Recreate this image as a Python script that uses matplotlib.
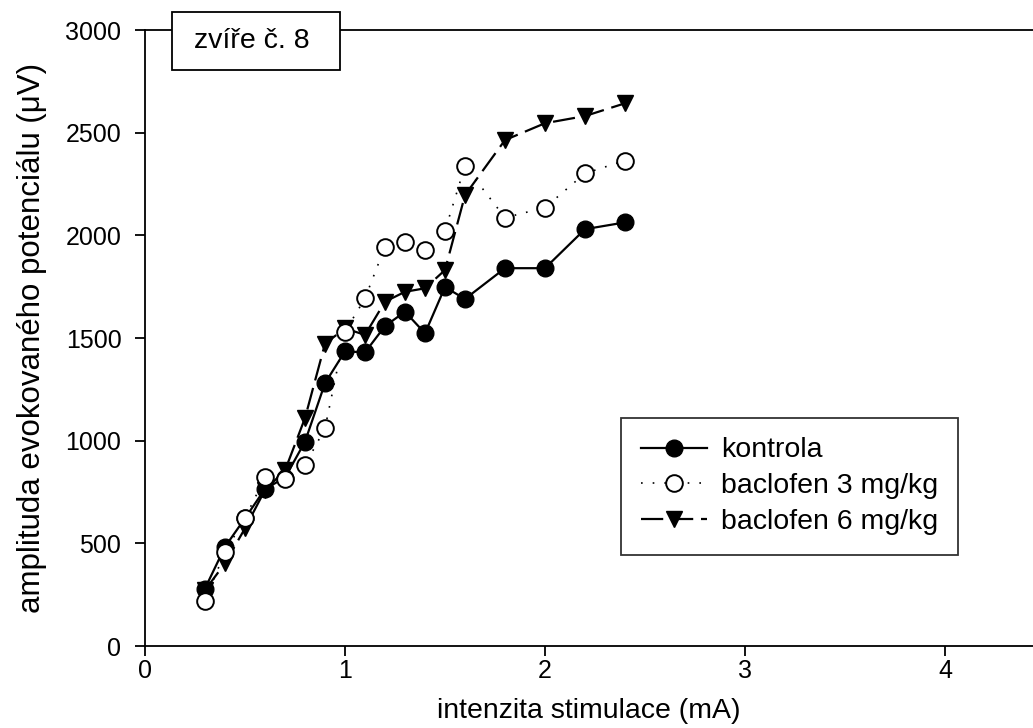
import numpy as np
import matplotlib.pyplot as plt
from matplotlib.patches import Rectangle

plt.rcParams['font.family'] = ['Liberation Sans', 'DejaVu Sans']

# intenzita stimulace (mA)
x = [0.3, 0.4, 0.5, 0.6, 0.7, 0.8, 0.9, 1.0, 1.1, 1.2, 1.3, 1.4, 1.5, 1.6, 1.8, 2.0, 2.2, 2.4]
kontrola = [280, 483, 622, 765, 820, 995, 1280, 1435, 1430, 1558, 1628, 1523, 1748, 1690, 1840, 1840, 2030, 2063]
baclofen3 = [219, 459, 622, 822, 815, 881, 1060, 1531, 1693, 1945, 1969, 1929, 2023, 2338, 2086, 2135, 2302, 2364]
baclofen6 = [272, 403, 573, 760, 855, 1110, 1472, 1547, 1515, 1677, 1725, 1742, 1831, 2196, 2464, 2546, 2581, 2643]

fig = plt.figure(figsize=(10.33, 7.28), dpi=100)
ax = fig.add_axes([145/1033, 82/728, 888/1033, 616/728])

ax.plot(x, kontrola, '-', color='black', lw=1.6, marker='o', ms=12,
        mfc='black', mec='black', label='kontrola', zorder=3)
ax.plot(x, baclofen3, color='black', lw=1.2, ls=(0, (1, 6)), marker='o', ms=12,
        mfc='white', mec='black', mew=1.4, label='baclofen 3 mg/kg', zorder=4)
ax.plot(x, baclofen6, color='black', lw=1.6, ls=(0, (10, 3.5)), marker='v', ms=12,
        mfc='black', mec='black', label='baclofen 6 mg/kg', zorder=2)

ax.set_xlim(0, 888/200)
ax.set_ylim(0, 3000)
ax.set_xticks([0, 1, 2, 3, 4])
ax.set_xticklabels(['0', '1', '2', '3', '4'])
ax.set_yticks([0, 500, 1000, 1500, 2000, 2500, 3000])
ax.spines['right'].set_visible(False)
for s in ['left', 'bottom', 'top']:
    ax.spines[s].set_linewidth(1.3)
ax.tick_params(direction='out', length=7, width=1.3, labelsize=18, top=False, right=False)
ax.tick_params(axis='x', pad=2)
ax.tick_params(axis='y', pad=10)

ax.set_xlabel('intenzita stimulace (mA)', fontsize=20.5, labelpad=11)
ax.set_ylabel('amplituda evokovaného potenciálu (μV)', fontsize=22.5, labelpad=13)

leg = ax.legend(loc='center', bbox_to_anchor=(0.726, 0.259), fontsize=20.5,
                frameon=True, fancybox=False, handlelength=2.3, handletextpad=0.5,
                borderpad=0.7, labelspacing=0.35, borderaxespad=0)
leg.get_frame().set_edgecolor('black')
leg.get_frame().set_linewidth(1.3)

fig.patches.append(Rectangle((172/1033, (728-70)/728), 168/1033, 58/728,
                             transform=fig.transFigure, facecolor='white',
                             edgecolor='black', lw=1.3, zorder=5))
fig.text(252/1033, (728-41)/728, 'zvíře č. 8', ha='center', va='center',
         fontsize=20.5, zorder=6)

fig.savefig('out.png', dpi=100)
